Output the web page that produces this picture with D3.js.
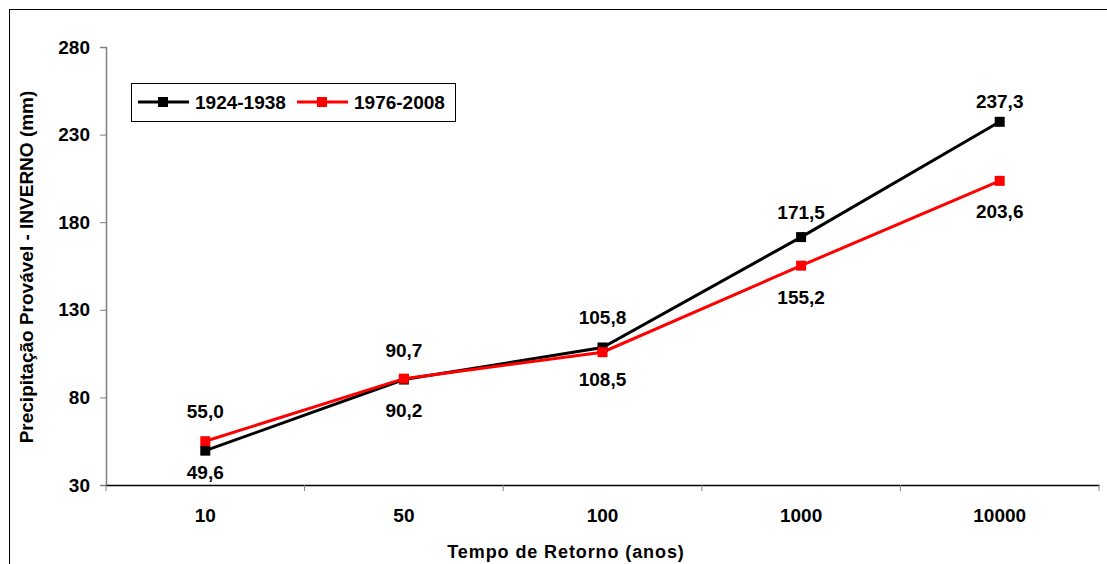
<!DOCTYPE html>
<html>
<head>
<meta charset="utf-8">
<script src="https://cdn.jsdelivr.net/npm/d3@7"></script>
<style>
  body { margin: 0; background: #fff; }
  text { font-family: "Liberation Sans", Arial, sans-serif; font-weight: bold; fill: #000; }
</style>
</head>
<body>
<div id="plot"></div>
<script>
// data
const categories = ['10', '50', '100', '1000', '10000']
const seriesNames = ['1924-1938', '1976-2008']
const blackValues = [49.6, 90.2, 108.5, 171.5, 237.3]
const redValues = [55.0, 90.7, 105.8, 155.2, 203.6]
// label texts as printed on the chart
const blackLabels = ['49,6', '90,7', '105,8', '171,5', '237,3']
const redLabels = ['55,0', '90,2', '108,5', '155,2', '203,6']
const yTicks = [30, 80, 130, 180, 230, 280]

const width = 1107
const height = 564
const margin = { left: 106, right: 8, top: 47, bottom: 79 }
const font = '"Liberation Sans", Arial, sans-serif'

const svg = d3.select('#plot')
  .append('svg')
  .attr('width', width)
  .attr('height', height)

// outer frame
svg.append('rect')
  .attr('x', 9.5).attr('y', 9.5)
  .attr('width', width + 20).attr('height', height + 20)
  .attr('fill', 'none').attr('stroke', '#000')

const x = d3.scaleBand()
  .domain(categories)
  .range([margin.left, width - margin.right])

const y = d3.scaleLinear()
  .domain([30, 280])
  .range([height - margin.bottom, margin.top])

// y axis
const yAxis = svg.append('g')
  .attr('transform', 'translate(' + margin.left + ',0)')
  .call(d3.axisLeft(y).tickValues(yTicks).tickSize(6).tickPadding(10))
yAxis.select('.domain').attr('stroke', '#808080').attr('stroke-width', 1.5)
yAxis.selectAll('.tick line').attr('stroke', '#808080')
yAxis.selectAll('.tick text').style('font-size', '19px').style('font-family', font).style('font-weight', 'bold')

// x axis: ticks between categories
const xAxis = svg.append('g')
  .attr('transform', 'translate(0,' + y(30) + ')')
  .call(d3.axisBottom(x).tickSize(0).tickPadding(24))
xAxis.select('.domain').attr('stroke', '#000').attr('stroke-width', 1.5)
xAxis.selectAll('.tick text').style('font-size', '19px').style('font-family', font).style('font-weight', 'bold')
const bounds = categories.map(c => x(c)).concat([x(categories[categories.length - 1]) + x.bandwidth()])
xAxis.selectAll('line.sep')
  .data(bounds)
  .enter()
  .append('line')
  .attr('x1', d => d).attr('x2', d => d)
  .attr('y1', 0).attr('y2', 6)
  .attr('stroke', '#808080')

// axis titles
svg.append('text')
  .attr('x', 566).attr('y', 558)
  .attr('text-anchor', 'middle')
  .style('font-size', '18px')
  .style('letter-spacing', '0.9px')
  .text('Tempo de Retorno (anos)')

svg.append('text')
  .attr('transform', 'translate(33,267) rotate(-90)')
  .attr('text-anchor', 'middle')
  .style('font-size', '19px')
  .text('Precipitação Provável - INVERNO (mm)')

const cx = d => x(d) + x.bandwidth() / 2
const line = d3.line()
  .x((d, i) => cx(categories[i]))
  .y(d => y(d))

const series = [
  { name: seriesNames[0], values: blackValues, labels: blackLabels, color: '#000', dy: [28, -23, -23, -18, -14] },
  { name: seriesNames[1], values: redValues, labels: redLabels, color: '#ff0000', dy: [-23, 38, 34, 38, 37] }
]

series.forEach(s => {
  svg.append('path')
    .datum(s.values)
    .attr('d', line)
    .attr('fill', 'none')
    .attr('stroke', s.color)
    .attr('stroke-width', 3)
})

series.forEach(s => {
  svg.selectAll(null)
    .data(s.values)
    .enter()
    .append('rect')
    .attr('x', (d, i) => cx(categories[i]) - 5)
    .attr('y', d => y(d) - 5)
    .attr('width', 10).attr('height', 10)
    .attr('fill', s.color)

  svg.selectAll(null)
    .data(s.values)
    .enter()
    .append('text')
    .attr('x', (d, i) => cx(categories[i]))
    .attr('y', (d, i) => y(d) + s.dy[i])
    .attr('text-anchor', 'middle')
    .style('font-size', '19px')
    .text((d, i) => s.labels[i])
})

// legend
const legend = svg.append('g')
legend.append('rect')
  .attr('x', 131.5).attr('y', 83.5)
  .attr('width', 324).attr('height', 38)
  .attr('fill', '#fff').attr('stroke', '#000')
series.forEach((s, i) => {
  const lx = 138 + i * 159
  legend.append('line')
    .attr('x1', lx).attr('x2', lx + 51)
    .attr('y1', 102).attr('y2', 102)
    .attr('stroke', s.color).attr('stroke-width', 3)
  legend.append('rect')
    .attr('x', lx + 20).attr('y', 97)
    .attr('width', 10).attr('height', 10)
    .attr('fill', s.color)
  legend.append('text')
    .attr('x', lx + 57).attr('y', 109)
    .style('font-size', '19px')
    .text(s.name)
})
</script>
</body>
</html>
